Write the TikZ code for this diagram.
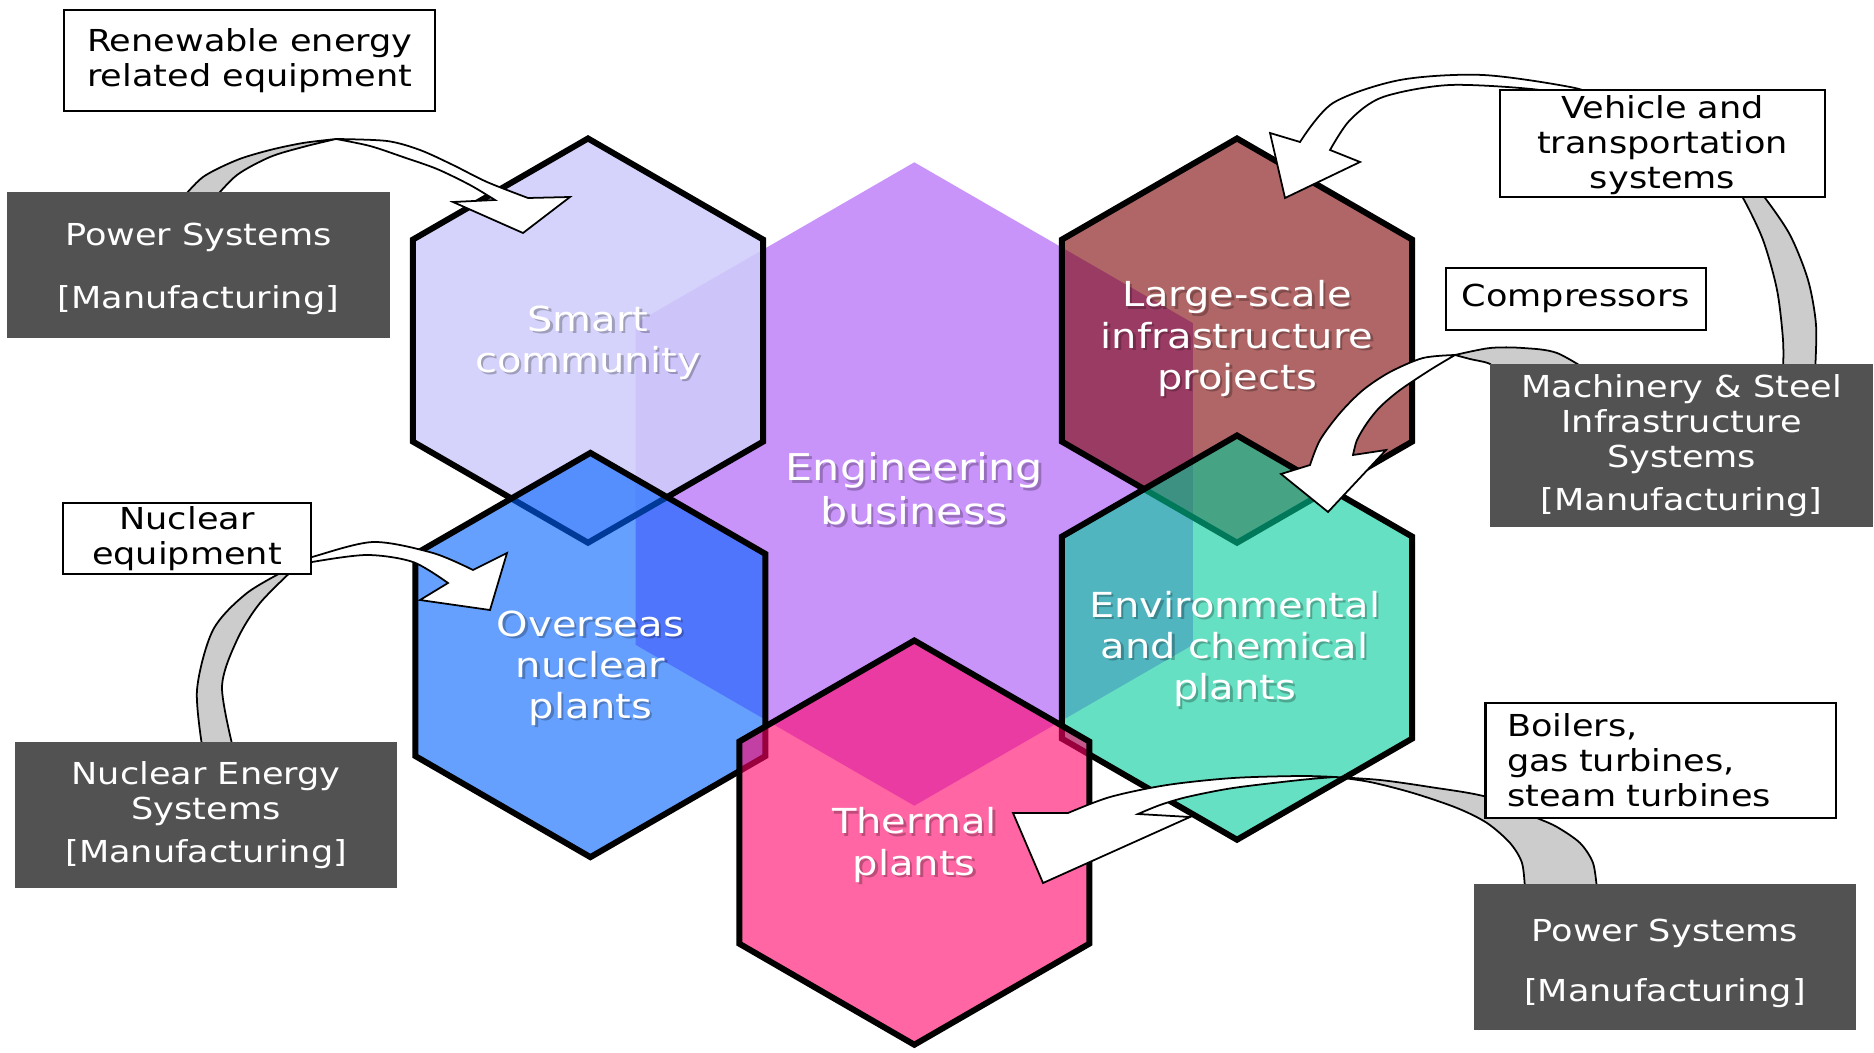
\documentclass[tikz,border=0pt]{standalone}
\usepackage{fontspec}
\setmainfont{DejaVu Sans}[FakeStretch=1.16]
\usetikzlibrary{shapes.geometric}

\definecolor{engpurple}{RGB}{201,148,250}
\definecolor{smartlilac}{RGB}{206,204,250}
\definecolor{largered}{RGB}{123,0,0}
\definecolor{nuclearblue}{RGB}{0,97,255}
\definecolor{envgreen}{RGB}{0,203,153}
\definecolor{thermalpink}{RGB}{255,0,102}
\definecolor{darkbox}{RGB}{82,82,82}
\definecolor{backgrey}{RGB}{204,204,204}

\begin{document}
\begin{tikzpicture}[%
        x=0.01cm, y=-0.01cm,
        hexagon/.style={regular polygon, regular polygon sides=6, shape border rotate=30,
            minimum size=4.04cm, inner sep=0pt, draw=black, line width=1.7pt, fill opacity=0.6},
        hex text/.style={text=white, align=center, font=\fontsize{9.8}{11.7}\selectfont},
        hex shadow/.style={hex text, text=black, text opacity=0.25, xshift=0.7pt, yshift=-0.7pt},
        light box/.style={draw=black, line width=0.6pt, fill=white, inner sep=0pt, align=center,
            font=\fontsize{8.6}{9.9}\selectfont},
        dark box/.style={fill=darkbox, text=white, inner sep=0pt, align=center,
            font=\fontsize{8.6}{9.9}\selectfont},
        back band/.style={draw=black, line width=0.5pt, fill=backgrey},
        front band/.style={draw=black, line width=0.5pt, fill=white}
    ]
    \useasboundingbox (0,0) rectangle (1874,1052);

    % --- Hexagons ---
    \node[hexagon, minimum size=6.43cm, draw=none, fill=engpurple, fill opacity=1] (eng) at (914.3,484) {};
    \node[hexagon, fill=smartlilac, fill opacity=0.86] (smart) at (588,340.6) {};
    \node[hexagon, fill=largered] (large) at (1237,340.6) {};
    \node[hexagon, fill=nuclearblue] (overseas) at (590.4,655) {};
    \node[hexagon, fill=envgreen] (env) at (1237,637.6) {};
    \node[hexagon, fill=thermalpink] (thermal) at (914.3,842.6) {};

    % --- Hexagon labels ---
    \node[hex shadow] (smart-sh) at (588,342.5) {Smart\\community};
    \node[hex text] (smart-txt) at (588,342.5) {Smart\\community};
    \node[hex shadow, font=\fontsize{10.5}{12.6}\selectfont] (eng-sh) at (914.3,489) {Engineering\\business};
    \node[hex text, font=\fontsize{10.5}{12.6}\selectfont] (eng-txt) at (914.3,489) {Engineering\\business};
    \node[hex shadow] (large-sh) at (1237,338.5) {Large-scale\\infrastructure\\projects};
    \node[hex text] (large-txt) at (1237,338.5) {Large-scale\\infrastructure\\projects};
    \node[hex shadow] (overseas-sh) at (590.4,668) {Overseas\\nuclear\\plants};
    \node[hex text] (overseas-txt) at (590.4,668) {Overseas\\nuclear\\plants};
    \node[hex shadow] (env-sh) at (1234.6,649) {Environmental\\and chemical\\plants};
    \node[hex text] (env-txt) at (1234.6,649) {Environmental\\and chemical\\plants};
    \node[hex shadow] (thermal-sh) at (914.3,845) {Thermal\\plants};
    \node[hex text] (thermal-txt) at (914.3,845) {Thermal\\plants};

    % --- Curved block arrows ---
    % power systems -> smart community
    \filldraw[back band] plot[smooth] coordinates {(181,200) (203,177) (237,160) (270,150) (303,143) (336,139)}
        -- plot[smooth] coordinates {(336,139) (303,147) (270,157) (237,175) (213,200)} -- cycle;
    \filldraw[front band] plot[smooth] coordinates {(336,139) (387,141) (420,150) (453,165) (487,182) (528,198)}
        -- (570,197) -- (523,233) -- (453,202) -- (495,200)
        -- plot[smooth] coordinates {(495,200) (470,185) (437,169) (403,157) (370,146) (336,139)} -- cycle;

    % nuclear energy systems -> overseas nuclear plants
    \filldraw[back band] plot[smooth] coordinates {(203,752) (197,690) (213,630) (247,593) (292,567)}
        -- plot[smooth] coordinates {(296,567) (260,603) (237,640) (222,687) (234,752)} -- cycle;
    \filldraw[front band] plot[smooth] coordinates {(295,562) (312,557) (373,542) (433,553) (473,570)}
        -- (507,553) -- (490,610) -- (420,600) -- (448,583)
        -- plot[smooth] coordinates {(448,583) (413,562) (367,555) (312,562) (295,567)} -- cycle;

    % machinery & steel -> large-scale infrastructure
    \filldraw[back band] plot[smooth] coordinates {(1815,372) (1816,325) (1808,280) (1790,235) (1765,198) (1752,185)}
        -- plot[smooth] coordinates {(1732,185) (1743,198) (1763,240) (1777,290) (1783,340) (1783,372)} -- cycle;
    \filldraw[front band] plot[smooth] coordinates {(1600,100) (1575,88) (1483,75) (1400,80) (1333,103) (1300,142)}
        -- (1270,133) -- (1285,198) -- (1360,162) -- (1330,150)
        -- plot[smooth] coordinates {(1330,150) (1350,120) (1383,97) (1450,85) (1540,90) (1560,100)} -- cycle;

    % machinery & steel -> environmental plants
    \filldraw[back band] plot[smooth] coordinates {(1595,375) (1557,353) (1523,348) (1490,348) (1455,355)}
        -- plot[smooth] coordinates {(1455,355) (1470,359) (1490,364) (1498,375)} -- cycle;
    \filldraw[front band] plot[smooth] coordinates {(1455,355) (1423,358) (1390,372) (1363,390) (1340,413) (1320,440) (1310,465)}
        -- (1281,474) -- (1328,512) -- (1386,450) -- (1353,455)
        -- plot[smooth] coordinates {(1353,455) (1357,440) (1367,423) (1380,407) (1400,390) (1430,370) (1455,355)} -- cycle;

    % power systems -> thermal plants
    \filldraw[back band] plot[smooth] coordinates {(1525,890) (1522,863) (1510,843) (1487,823) (1457,808) (1413,793) (1370,782) (1335,777)}
        -- plot[smooth] coordinates {(1335,777) (1380,780) (1430,787) (1487,797) (1537,818) (1557,827) (1580,843) (1593,863) (1597,890)} -- cycle;
    \filldraw[front band] plot[smooth] coordinates {(1335,777) (1300,776) (1233,778) (1167,785) (1110,797) (1068,813)}
        -- (1013,813) -- (1043,883) -- (1190,817) -- (1138,814)
        -- plot[smooth] coordinates {(1138,814) (1160,805) (1187,797) (1233,788) (1300,780) (1335,777)} -- cycle;

    % --- Product boxes ---
    \node[light box, minimum width=3.705cm, minimum height=1.016cm] (renew) at (249.8,60.4) {Renewable energy\\related equipment};
    \node[light box, minimum width=3.25cm, minimum height=1.076cm] (vehicle) at (1662.5,143.4) {\rule{0pt}{7.6pt}Vehicle and\\transportation\\systems};
    \node[light box, minimum width=2.596cm, minimum height=0.622cm] (compressors) at (1575.8,298.8) {Compressors};
    \node[light box, minimum width=2.475cm, minimum height=0.705cm] (nucequip) at (187,538.5) {Nuclear\\equipment};
    \node[light box, align=left, text width=3.072cm, inner xsep=0.215cm, minimum height=1.147cm] (boilers) at (1660.7,760.2) {Boilers,\\gas turbines,\\steam turbines};

    % --- Manufacturing boxes ---
    \node[dark box, minimum width=3.824cm, minimum height=1.458cm] (power-top) at (198.4,265.3) {\rule{0pt}{8.6pt}Power Systems\\[8.1pt]{[Manufacturing]}};
    \node[dark box, minimum width=3.813cm, minimum height=1.458cm] (nucsys) at (206.2,815.1) {Nuclear Energy\\Systems\\[2.4pt]{[Manufacturing]}};
    \node[dark box, minimum width=3.825cm, minimum height=1.626cm] (machinery) at (1681.6,445.8) {Machinery \& Steel\\Infrastructure\\Systems\\[2.4pt]{[Manufacturing]}};
    \node[dark box, minimum width=3.824cm, minimum height=1.459cm] (power-bottom) at (1664.9,957.4) {\rule{0pt}{10pt}Power Systems\\[7.1pt]{[Manufacturing]}};
\end{tikzpicture}
\end{document}
